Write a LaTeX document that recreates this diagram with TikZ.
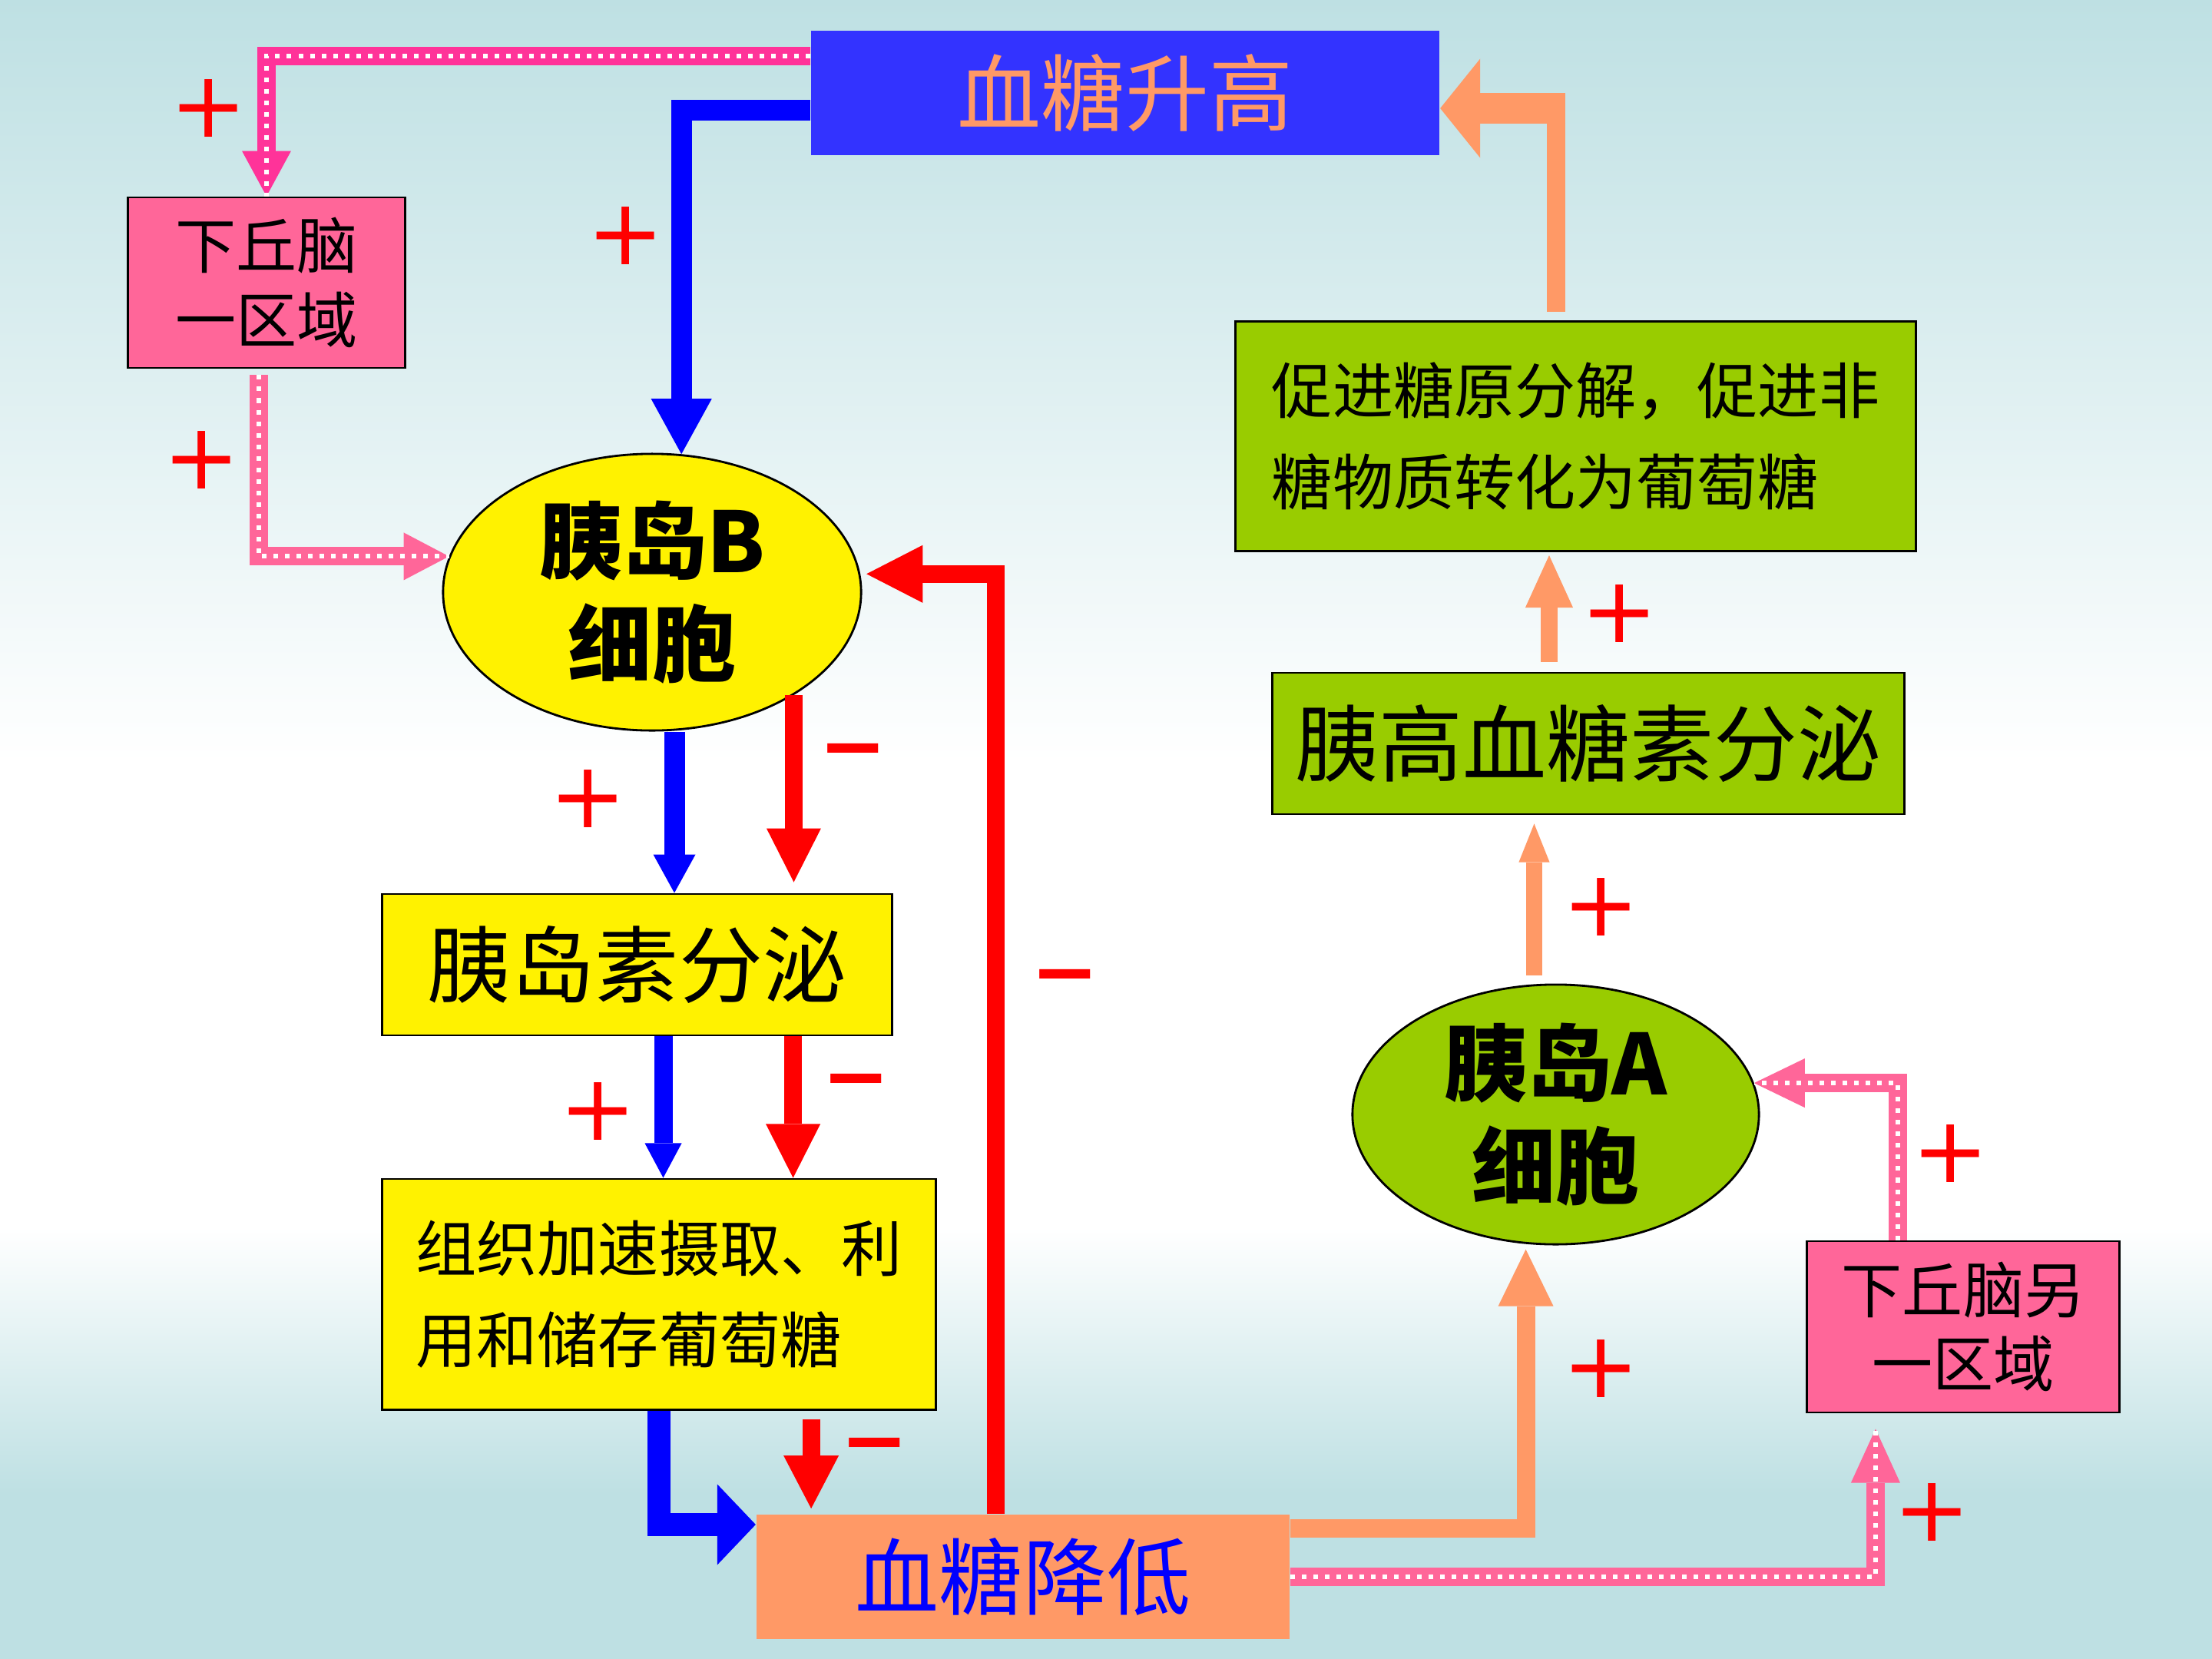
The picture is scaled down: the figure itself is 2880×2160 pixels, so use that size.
\documentclass[tikz,border=0pt]{standalone}
\usepackage{fontspec}
\setmainfont{Noto Sans CJK SC}
\newfontfamily\signfont{DejaVu Sans}
\usetikzlibrary{arrows.meta,shapes.geometric}

\definecolor{bgteal}{HTML}{BEE0E3}
\definecolor{riseblue}{HTML}{3333FF}
\definecolor{flowblue}{HTML}{0000FF}
\definecolor{salmon}{HTML}{FF9966}
\definecolor{pinkbox}{HTML}{FF6699}
\definecolor{hotpink}{HTML}{FF3399}
\definecolor{leaf}{HTML}{99CC00}

\newcommand{\bigtext}{\fontsize{31pt}{38pt}\selectfont}
\newcommand{\midtext}{\fontsize{22.5pt}{27.5pt}\selectfont}
\newcommand{\smalltext}{\fontsize{22.5pt}{34pt}\selectfont}

\pgfdeclareverticalshading{slidebg}{100bp}{color(0bp)=(bgteal); color(30bp)=(bgteal);
  color(38bp)=(white); color(52bp)=(white); color(75bp)=(bgteal); color(100bp)=(bgteal)}

\begin{document}
\begin{tikzpicture}[x=0.01cm, y=-0.01cm,
  box/.style = {draw=black, line width=0.8pt, inner sep=0pt, align=center},
  cell/.style = {ellipse, draw=black, line width=0.8pt, inner sep=0pt,
    align=center, font=\bigtext\bfseries},
  sign/.style = {text=red, inner sep=0pt, font=\signfont\fontsize{34pt}{34pt}\selectfont},
  minussign/.style = {sign, font=\signfont\bfseries\fontsize{30pt}{30pt}\selectfont},
  blueflow/.style = {draw=flowblue, line width=0.27cm},
  redflow/.style = {draw=red, line width=0.23cm},
  orflow/.style = {draw=salmon, line width=0.22cm},
  pinkflow/.style = {draw=#1, line width=0.24cm,
    postaction={draw=white, line width=0.06cm, dash pattern=on 0.06cm off 0.09cm, -}}]

  \shade[shading=slidebg] (0,0) rectangle (2880,2160);

  \node[box, draw=none, fill=riseblue, text=salmon, font=\bigtext,
    minimum width=8.17cm, minimum height=1.62cm] (rise) at (1465,121) {血糖升高};
  \node[box, fill=pinkbox, font=\midtext,
    minimum width=3.6cm, minimum height=2.22cm] (hypo1) at (347,368) {下丘脑\\一区域};
  \node[cell, fill=yellow, minimum width=5.44cm, minimum height=3.6cm]
    (cellB) at (849,771) {胰岛B\\细胞};
  \node[box, fill=yellow, font=\bigtext,
    minimum width=6.63cm, minimum height=1.84cm] (insulin) at (829.5,1256) {胰岛素分泌};
  \node[box, fill=yellow, font=\smalltext, align=left,
    minimum width=7.2cm, minimum height=3cm] (tissue) at (858,1685)
    {组织加速摄取、利\\用和储存葡萄糖};
  \node[box, draw=none, fill=salmon, text=flowblue, font=\bigtext,
    minimum width=6.93cm, minimum height=1.61cm] (fall) at (1332,2053) {血糖降低};
  \node[box, fill=leaf, font=\smalltext, align=left,
    minimum width=8.85cm, minimum height=2.99cm] (promote) at (2051.5,568)
    {促进糖原分解，促进非\\糖物质转化为葡萄糖};
  \node[box, fill=leaf, font=\bigtext,
    minimum width=8.23cm, minimum height=1.84cm] (glucagon) at (2068,968) {胰高血糖素分泌};
  \node[cell, fill=leaf, minimum width=5.29cm, minimum height=3.38cm]
    (cellA) at (2025.5,1451) {胰岛A\\细胞};
  \node[box, fill=pinkbox, font=\midtext,
    minimum width=4.06cm, minimum height=2.23cm] (hypo2) at (2556,1727.5) {下丘脑另\\一区域};

  \draw[blueflow, -{Triangle[width=0.79cm,length=0.72cm,line width=0pt]}]
    ([yshift=-0.22cm]rise.west) -| (cellB.78);
  \draw[pinkflow=hotpink, -{Triangle[width=0.64cm,length=0.59cm,line width=0pt]}]
    ([yshift=0.48cm]rise.west) -| (hypo1.north);
  \draw[pinkflow=pinkbox, -{Triangle[width=0.62cm,length=0.59cm,line width=0pt]},
    shorten <=0.08cm] ([xshift=-0.1cm]hypo1.south) |- (cellB.170);
  \draw[redflow, -{Triangle[width=0.75cm,length=0.73cm,line width=0pt]}, shorten >=0.08cm]
    ([xshift=-0.35cm]fall.north) |- (cellB.5);

  \draw[blueflow, -{Triangle[width=0.55cm,length=0.5cm,line width=0pt]}]
    ([xshift=0.29cm]cellB.south) -- ([xshift=0.29cm]cellB.south |- insulin.north);
  \draw[redflow, -{Triangle[width=0.71cm,length=0.7cm,line width=0pt]}, shorten >=0.14cm]
    (cellB.-36) -- (cellB.-36 |- insulin.north);
  \draw[blueflow, line width=0.24cm, -{Triangle[width=0.48cm,length=0.45cm,line width=0pt]}]
    ([xshift=0.34cm]insulin.south) -- ([xshift=0.34cm]insulin.south |- tissue.north);
  \draw[redflow, -{Triangle[width=0.71cm,length=0.7cm,line width=0pt]}]
    ([xshift=2.03cm]insulin.south) -- ([xshift=2.03cm]insulin.south |- tissue.north);
  \draw[blueflow, line width=0.3cm, -{Triangle[width=1.05cm,length=0.5cm,line width=0pt]}]
    (tissue.south) |- ([yshift=0.68cm]fall.west);
  \draw[redflow, -{Triangle[width=0.72cm,length=0.69cm,line width=0pt]},
    shorten <=0.11cm, shorten >=0.07cm]
    ([xshift=1.98cm]tissue.south) -- ([xshift=1.98cm]tissue.south |- fall.north);

  \draw[orflow, line width=0.24cm, -{Triangle[width=0.72cm,length=0.74cm,line width=0pt]},
    shorten >=0.07cm] ([yshift=0.63cm]fall.east) -| (cellA.257);
  \draw[pinkflow=pinkbox, -{Triangle[width=0.64cm,length=0.7cm,line width=0pt]},
    shorten >=0.2cm] (fall.east) -| ([xshift=-1.14cm]hypo2.south);
  \draw[pinkflow=pinkbox, -{Triangle[width=0.64cm,length=0.66cm,line width=0pt]}]
    ([xshift=-0.85cm]hypo2.north) |- (cellA.9);
  \draw[orflow, line width=0.2cm, -{Triangle[width=0.4cm,length=0.5cm,line width=0pt]},
    shorten <=0.11cm, shorten >=0.11cm]
    ([xshift=-0.28cm]cellA.north) -- ([xshift=-0.28cm]cellA.north |- glucagon.south);
  \draw[orflow, -{Triangle[width=0.62cm,length=0.68cm,line width=0pt]},
    shorten <=0.13cm, shorten >=0.04cm]
    ([xshift=-0.51cm]glucagon.north) -- ([xshift=-0.51cm]glucagon.north |- promote.south);
  \coordinate (dturn) at (2026,141);
  \draw[orflow, line width=0.24cm, shorten <=0.11cm]
    (promote.north -| dturn) -- ([yshift=0.2cm]dturn);
  \draw[orflow, line width=0.39cm, -{Triangle[width=1.29cm,length=0.52cm,line width=0pt]}]
    ([xshift=0.12cm]dturn) -- (rise.east |- dturn);

  \node[sign] (plus1) at (272,141) {+};
  \node[sign] (plus2) at (815,307) {+};
  \node[sign] (plus3) at (263,599) {+};
  \node[sign] (plus4) at (766,1040) {+};
  \node[sign] (plus5) at (779,1447) {+};
  \node[sign] (plus6) at (2085,1181) {+};
  \node[sign] (plus7) at (2109,799) {+};
  \node[sign] (plus8) at (2540,1502) {+};
  \node[sign] (plus9) at (2085,1782) {+};
  \node[sign] (plus10) at (2516,1969) {+};
  \node[minussign] (minus1) at (1111,988) {−};
  \node[minussign] (minus2) at (1115,1418) {−};
  \node[minussign] (minus3) at (1139,1892) {−};
  \node[minussign] (minus4) at (1387,1282) {−};
\end{tikzpicture}
\end{document}
